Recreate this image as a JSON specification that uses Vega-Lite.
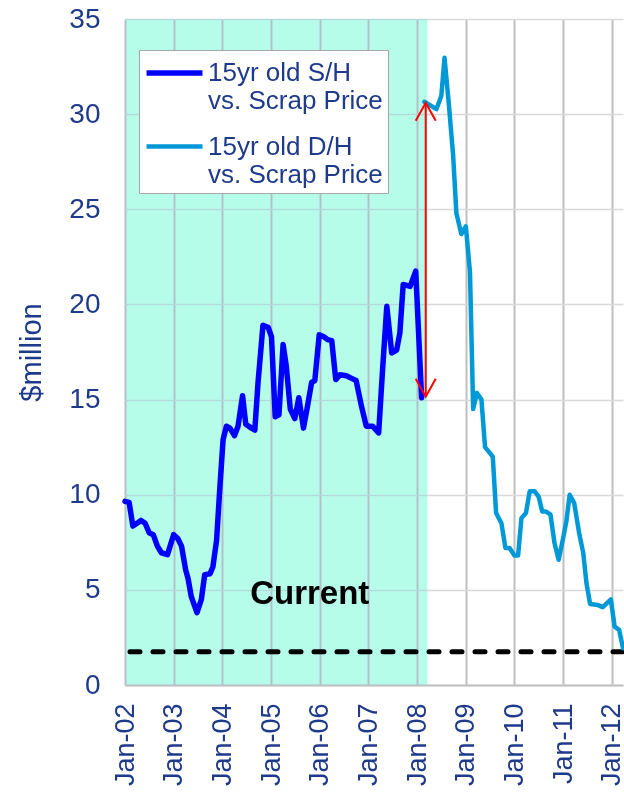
{
  "$schema": "https://vega.github.io/schema/vega-lite/v6.json",
  "width": 498,
  "height": 666,
  "autosize": "none",
  "padding": {"left": 125, "top": 19, "right": 1, "bottom": 108},
  "background": "white",
  "config": {
    "font": "Liberation Sans",
    "view": {"stroke": null},
    "axis": {"labelFont": "Liberation Sans", "labelColor": "#1E3A8A", "ticks": false, "tickSize": 0, "titleFontWeight": "normal", "titleFont": "Liberation Sans"},
    "axisX": {"labelAngle": -90, "labelFontSize": 27, "labelPadding": 18, "grid": true, "gridColor": "#bfbfbf", "gridWidth": 2, "domainColor": "#bfbfbf", "domainWidth": 2, "format": "%b-%y", "formatType": "utc", "labelOverlap": false, "labelFlush": false, "tickCount": {"interval": "year", "step": 1}},
    "axisY": {"labelFontSize": 28, "labelPadding": 25, "gridColor": "#d9d9d9", "gridWidth": 1.5, "domain": false, "titleFontSize": 29, "titleColor": "#1E3A8A", "titlePadding": 22}
  },
  "datasets": {
    "series": [
      {"series": "S/H", "date": "2002-01-01", "value": 9.65},
      {"series": "S/H", "date": "2002-02-01", "value": 9.6},
      {"series": "S/H", "date": "2002-03-01", "value": 8.35},
      {"series": "S/H", "date": "2002-04-01", "value": 8.5},
      {"series": "S/H", "date": "2002-05-01", "value": 8.65},
      {"series": "S/H", "date": "2002-06-01", "value": 8.5},
      {"series": "S/H", "date": "2002-07-01", "value": 8.0},
      {"series": "S/H", "date": "2002-08-01", "value": 7.9},
      {"series": "S/H", "date": "2002-09-01", "value": 7.3},
      {"series": "S/H", "date": "2002-10-01", "value": 6.95},
      {"series": "S/H", "date": "2002-11-16", "value": 6.85},
      {"series": "S/H", "date": "2003-01-01", "value": 7.9},
      {"series": "S/H", "date": "2003-02-01", "value": 7.7},
      {"series": "S/H", "date": "2003-03-01", "value": 7.3},
      {"series": "S/H", "date": "2003-04-01", "value": 6.05},
      {"series": "S/H", "date": "2003-04-19", "value": 5.6},
      {"series": "S/H", "date": "2003-05-13", "value": 4.65},
      {"series": "S/H", "date": "2003-06-25", "value": 3.8},
      {"series": "S/H", "date": "2003-07-28", "value": 4.5},
      {"series": "S/H", "date": "2003-08-22", "value": 5.8},
      {"series": "S/H", "date": "2003-10-01", "value": 5.85},
      {"series": "S/H", "date": "2003-10-22", "value": 6.2},
      {"series": "S/H", "date": "2003-11-19", "value": 7.6},
      {"series": "S/H", "date": "2003-12-13", "value": 10.3},
      {"series": "S/H", "date": "2004-01-07", "value": 12.9},
      {"series": "S/H", "date": "2004-02-01", "value": 13.6},
      {"series": "S/H", "date": "2004-02-28", "value": 13.5},
      {"series": "S/H", "date": "2004-04-01", "value": 13.1},
      {"series": "S/H", "date": "2004-04-28", "value": 13.6},
      {"series": "S/H", "date": "2004-06-01", "value": 15.2},
      {"series": "S/H", "date": "2004-06-25", "value": 13.7},
      {"series": "S/H", "date": "2004-08-07", "value": 13.5},
      {"series": "S/H", "date": "2004-09-01", "value": 13.4},
      {"series": "S/H", "date": "2004-09-25", "value": 15.9},
      {"series": "S/H", "date": "2004-11-01", "value": 18.9},
      {"series": "S/H", "date": "2004-12-10", "value": 18.8},
      {"series": "S/H", "date": "2005-01-04", "value": 18.3},
      {"series": "S/H", "date": "2005-02-01", "value": 14.1},
      {"series": "S/H", "date": "2005-03-01", "value": 14.2},
      {"series": "S/H", "date": "2005-04-01", "value": 17.9},
      {"series": "S/H", "date": "2005-04-25", "value": 16.75},
      {"series": "S/H", "date": "2005-05-25", "value": 14.5},
      {"series": "S/H", "date": "2005-06-28", "value": 14.0},
      {"series": "S/H", "date": "2005-07-28", "value": 15.1},
      {"series": "S/H", "date": "2005-09-01", "value": 13.5},
      {"series": "S/H", "date": "2005-10-01", "value": 14.65},
      {"series": "S/H", "date": "2005-11-01", "value": 15.9},
      {"series": "S/H", "date": "2005-11-25", "value": 16.0},
      {"series": "S/H", "date": "2005-12-28", "value": 18.4},
      {"series": "S/H", "date": "2006-02-01", "value": 18.3},
      {"series": "S/H", "date": "2006-03-01", "value": 18.15},
      {"series": "S/H", "date": "2006-04-01", "value": 18.1},
      {"series": "S/H", "date": "2006-05-01", "value": 16.05},
      {"series": "S/H", "date": "2006-06-01", "value": 16.3},
      {"series": "S/H", "date": "2006-07-19", "value": 16.25},
      {"series": "S/H", "date": "2006-09-01", "value": 16.1},
      {"series": "S/H", "date": "2006-10-01", "value": 16.0},
      {"series": "S/H", "date": "2006-11-10", "value": 14.65},
      {"series": "S/H", "date": "2006-12-16", "value": 13.6},
      {"series": "S/H", "date": "2007-02-01", "value": 13.6},
      {"series": "S/H", "date": "2007-03-19", "value": 13.25},
      {"series": "S/H", "date": "2007-04-19", "value": 16.75},
      {"series": "S/H", "date": "2007-05-19", "value": 19.9},
      {"series": "S/H", "date": "2007-06-25", "value": 17.45},
      {"series": "S/H", "date": "2007-08-01", "value": 17.6},
      {"series": "S/H", "date": "2007-08-25", "value": 18.5},
      {"series": "S/H", "date": "2007-09-19", "value": 21.05},
      {"series": "S/H", "date": "2007-11-10", "value": 20.95},
      {"series": "S/H", "date": "2007-12-22", "value": 21.75},
      {"series": "S/H", "date": "2008-02-04", "value": 15.1},
      {"series": "D/H", "date": "2008-02-25", "value": 30.65},
      {"series": "D/H", "date": "2008-05-25", "value": 30.26},
      {"series": "D/H", "date": "2008-07-01", "value": 30.96},
      {"series": "D/H", "date": "2008-07-25", "value": 32.96},
      {"series": "D/H", "date": "2008-08-28", "value": 30.4},
      {"series": "D/H", "date": "2008-09-28", "value": 27.8},
      {"series": "D/H", "date": "2008-10-22", "value": 24.8},
      {"series": "D/H", "date": "2008-11-28", "value": 23.7},
      {"series": "D/H", "date": "2009-01-01", "value": 24.1},
      {"series": "D/H", "date": "2009-02-01", "value": 21.7},
      {"series": "D/H", "date": "2009-02-25", "value": 14.5},
      {"series": "D/H", "date": "2009-03-25", "value": 15.35},
      {"series": "D/H", "date": "2009-04-28", "value": 15.0},
      {"series": "D/H", "date": "2009-05-25", "value": 12.5},
      {"series": "D/H", "date": "2009-07-22", "value": 12.0},
      {"series": "D/H", "date": "2009-08-16", "value": 9.04},
      {"series": "D/H", "date": "2009-09-25", "value": 8.5},
      {"series": "D/H", "date": "2009-10-25", "value": 7.2},
      {"series": "D/H", "date": "2009-11-25", "value": 7.2},
      {"series": "D/H", "date": "2010-01-01", "value": 6.8},
      {"series": "D/H", "date": "2010-01-28", "value": 6.8},
      {"series": "D/H", "date": "2010-02-22", "value": 8.77},
      {"series": "D/H", "date": "2010-03-28", "value": 9.04},
      {"series": "D/H", "date": "2010-04-25", "value": 10.18},
      {"series": "D/H", "date": "2010-06-01", "value": 10.18},
      {"series": "D/H", "date": "2010-07-01", "value": 9.9},
      {"series": "D/H", "date": "2010-07-28", "value": 9.12},
      {"series": "D/H", "date": "2010-08-25", "value": 9.12},
      {"series": "D/H", "date": "2010-09-28", "value": 8.95},
      {"series": "D/H", "date": "2010-10-28", "value": 7.46},
      {"series": "D/H", "date": "2010-11-28", "value": 6.58},
      {"series": "D/H", "date": "2011-01-01", "value": 7.72},
      {"series": "D/H", "date": "2011-01-25", "value": 8.6},
      {"series": "D/H", "date": "2011-02-19", "value": 10.0},
      {"series": "D/H", "date": "2011-03-25", "value": 9.56},
      {"series": "D/H", "date": "2011-05-01", "value": 7.98},
      {"series": "D/H", "date": "2011-06-01", "value": 6.93},
      {"series": "D/H", "date": "2011-06-25", "value": 5.35},
      {"series": "D/H", "date": "2011-07-22", "value": 4.26},
      {"series": "D/H", "date": "2011-09-19", "value": 4.2},
      {"series": "D/H", "date": "2011-10-25", "value": 4.09},
      {"series": "D/H", "date": "2011-12-25", "value": 4.5},
      {"series": "D/H", "date": "2012-01-22", "value": 3.07},
      {"series": "D/H", "date": "2012-02-25", "value": 2.9},
      {"series": "D/H", "date": "2012-03-25", "value": 1.93}
    ],
    "shade": [{"start": "2002-01-01", "end": "2008-03-18"}],
    "ref": [{"level": 1.75}],
    "arrow": [{"date": "2008-03-06", "low": 15.15, "high": 30.6}],
    "note": [{"date": "2005-10-18", "value": 4.8, "label": "Current"}]
  },
  "layer": [
    {
      "data": {"name": "shade"},
      "mark": {"type": "rect", "color": "#b5fce9", "blend": "darken"},
      "encoding": {
        "x": {"field": "start", "type": "temporal", "title": null, "scale": {"type": "utc", "domain": [{"year": 2002, "month": 1, "date": 1, "utc": true}, {"year": 2012, "month": 3, "date": 25, "utc": true}]}},
        "x2": {"field": "end"}
      }
    },
    {
      "data": {"name": "ref"},
      "mark": {"type": "rule", "color": "black", "strokeWidth": 5, "strokeDash": [10, 13], "strokeCap": "round"},
      "encoding": {
        "y": {"field": "level", "type": "quantitative", "title": "$million", "scale": {"domain": [0, 35], "nice": false}, "axis": {"values": [0, 5, 10, 15, 20, 25, 30, 35]}}
      }
    },
    {
      "data": {"name": "series"},
      "mark": {"type": "line", "strokeJoin": "round", "strokeCap": "round"},
      "encoding": {
        "x": {"field": "date", "type": "temporal", "title": null, "scale": {"type": "utc", "domain": [{"year": 2002, "month": 1, "date": 1, "utc": true}, {"year": 2012, "month": 3, "date": 25, "utc": true}]}},
        "y": {"field": "value", "type": "quantitative", "title": "$million", "scale": {"domain": [0, 35], "nice": false}, "axis": {"values": [0, 5, 10, 15, 20, 25, 30, 35]}},
        "color": {
          "field": "series", "type": "nominal",
          "scale": {"domain": ["S/H", "D/H"], "range": ["#0000FF", "#0099D8"]},
          "legend": {"orient": "none", "legendX": 14, "legendY": 31, "title": null, "symbolType": "M-1.03,0L2.7,0", "symbolSize": 900, "symbolStrokeWidth": 5, "labelFontSize": 26, "labelColor": "#1E3A8A", "labelLimit": 400, "labelExpr": "['15yr old ' + datum.label, 'vs. Scrap Price']", "fillColor": "white", "strokeColor": "#a6a6a6", "padding": 5, "rowPadding": 15, "labelBaseline": "middle", "labelOffset": 28}
        },
        "strokeWidth": {"field": "series", "type": "nominal", "scale": {"domain": ["S/H", "D/H"], "range": [5.5, 4.5]}, "legend": null}
      }
    },
    {
      "data": {"name": "arrow"},
      "mark": {"type": "rule", "color": "#FF0000", "strokeWidth": 2},
      "encoding": {
        "x": {"field": "date", "type": "temporal", "title": null},
        "y": {"field": "low", "type": "quantitative", "title": "$million"},
        "y2": {"field": "high"}
      }
    },
    {
      "data": {"name": "arrow"},
      "mark": {"type": "point", "shape": "M-1,1.8L0,0L1,1.8", "filled": false, "color": "#FF0000", "strokeWidth": 2, "size": 400, "opacity": 1},
      "encoding": {
        "x": {"field": "date", "type": "temporal", "title": null},
        "y": {"field": "high", "type": "quantitative", "title": "$million"}
      }
    },
    {
      "data": {"name": "arrow"},
      "mark": {"type": "point", "shape": "M-1,-1.8L0,0L1,-1.8", "filled": false, "color": "#FF0000", "strokeWidth": 2, "size": 400, "opacity": 1},
      "encoding": {
        "x": {"field": "date", "type": "temporal", "title": null},
        "y": {"field": "low", "type": "quantitative", "title": "$million"}
      }
    },
    {
      "data": {"name": "note"},
      "mark": {"type": "text", "font": "Liberation Sans", "fontWeight": "bold", "fontSize": 33, "color": "black", "align": "center", "baseline": "middle"},
      "encoding": {
        "x": {"field": "date", "type": "temporal", "title": null},
        "y": {"field": "value", "type": "quantitative", "title": "$million"},
        "text": {"field": "label"}
      }
    }
  ]
}
